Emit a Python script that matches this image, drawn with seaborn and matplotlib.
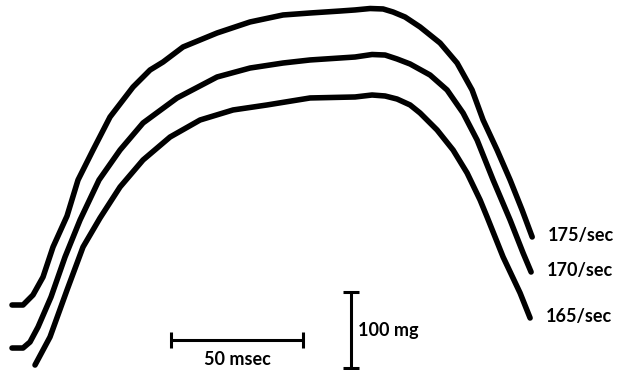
import matplotlib
matplotlib.use("Agg")
import matplotlib.pyplot as plt
import seaborn as sns
import pandas as pd

# Time (msec) and tension (mg)
t_175 = [0, 4.17, 6.06, 7.95, 11.74, 15.53, 20.83, 25.0, 30.68, 37.12, 45.83, 52.27, 57.2,
         64.77, 77.65, 90.15, 102.65, 112.88, 124.24, 129.92, 135.61, 140.53, 144.32, 148.86,
         154.55, 162.12, 168.56, 174.24, 178.41, 183.71, 188.64, 193.18, 197.0]
f_175 = [82.9, 82.9, 89.5, 96.1, 119.7, 159.2, 200.0, 247.4, 286.8, 330.3, 369.7, 392.1, 402.6,
         422.4, 440.8, 455.3, 464.5, 467.1, 469.7, 471.1, 473.0, 472.4, 468.4, 461.8,
         448.7, 427.6, 401.3, 365.8, 326.3, 286.8, 247.4, 207.9, 172.4]

t_170 = [0, 4.17, 6.82, 9.85, 14.77, 20.08, 25.76, 32.95, 40.91, 49.62, 62.5, 77.65, 90.15,
         102.65, 112.88, 129.92, 136.36, 141.29, 145.83, 150.76, 158.33, 164.77, 170.83,
         176.14, 182.2, 188.64, 193.56, 196.59]
f_170 = [26.3, 26.3, 34.2, 53.9, 93.4, 146.1, 194.7, 247.4, 286.8, 322.4, 355.3, 382.9, 394.7,
         401.3, 405.3, 409.2, 412.5, 411.8, 406.6, 400.0, 385.5, 365.8, 335.5,
         300.0, 247.4, 194.7, 151.3, 126.3]

t_165 = [8.71, 11.36, 14.39, 20.83, 26.89, 33.33, 40.91, 49.62, 59.85, 71.21, 83.71, 96.59,
         112.88, 129.92, 136.36, 141.29, 145.83, 150.76, 154.55, 160.98, 167.05, 172.35,
         177.27, 179.92, 185.98, 192.42, 196.21]
f_165 = [3.9, 21.1, 40.8, 102.6, 159.2, 197.4, 238.2, 273.7, 303.9, 326.3, 339.5, 346.1,
         355.3, 356.6, 359.2, 357.9, 353.9, 346.1, 335.5, 313.2, 286.8, 256.6,
         221.1, 198.7, 146.1, 98.7, 65.8]

rates = ["175/sec", "170/sec", "165/sec"]
series_t = [t_175, t_170, t_165]
series_f = [f_175, f_170, f_165]

# scale bars
time_bar_ms = 50
force_bar_mg = 100

frames = []
for r, tt, ff in zip(rates, series_t, series_f):
    frames.append(pd.DataFrame({"time": tt, "force": ff, "rate": r}))
df = pd.concat(frames, ignore_index=True)

sns.set_theme(style="white")
plt.rcParams["font.family"] = ["Lato", "DejaVu Sans"]

fig = plt.figure(figsize=(6.18, 3.70), dpi=100)
ax = fig.add_axes([0, 0, 1, 1])

sns.lineplot(data=df, x="time", y="force", units="rate", estimator=None,
             color="black", linewidth=4.0, sort=False, ax=ax, legend=False)
for line in ax.get_lines():
    line.set_solid_capstyle("round")
    line.set_solid_joinstyle("round")

ax.set_xlim(-4.55, 229.5)
ax.set_ylim(-2.63, 484.2)
ax.set_axis_off()

# labels at end of each trace
for r, tt, ff in zip(rates, series_t, series_f):
    ax.text(tt[-1] + 6, ff[-1] + 2, r, ha="left", va="center",
            fontsize=13, fontweight="bold", color="black")

# horizontal time scale bar
hx0 = 60.2
hy = 36.8
ax.plot([hx0, hx0 + time_bar_ms], [hy, hy], color="black", linewidth=2.2,
        marker="|", markersize=12, markeredgewidth=2.2)
ax.text(hx0 + time_bar_ms / 2, hy - 25, "50 msec", ha="center", va="center",
        fontsize=13, fontweight="bold", color="black")

# vertical force scale bar
vx = 128.4
ax.plot([vx, vx], [0, force_bar_mg], color="black", linewidth=2.2,
        marker="_", markersize=12, markeredgewidth=2.2)
ax.text(vx + 2.6, 50, "100 mg", ha="left", va="center",
        fontsize=13, fontweight="bold", color="black")

fig.savefig("out.png", dpi=100, facecolor="white")
